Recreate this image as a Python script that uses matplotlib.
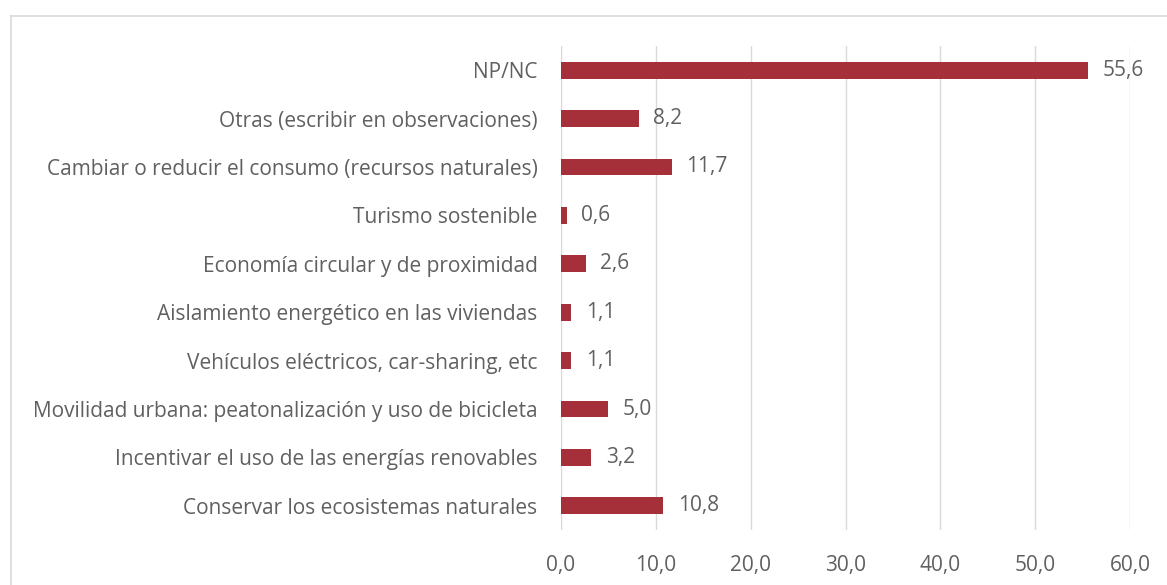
import numpy as np
import matplotlib.pyplot as plt
from matplotlib.lines import Line2D

categories = [
    "Conservar los ecosistemas naturales",
    "Incentivar el uso de las energías renovables",
    "Movilidad urbana: peatonalización y uso de bicicleta",
    "Vehículos eléctricos, car-sharing, etc",
    "Aislamiento energético en las viviendas",
    "Economía circular y de proximidad",
    "Turismo sostenible",
    "Cambiar o reducir el consumo (recursos naturales)",
    "Otras (escribir en observaciones)",
    "NP/NC",
]
values = [10.8, 3.2, 5.0, 1.1, 1.1, 2.6, 0.6, 11.7, 8.2, 55.6]
xticks = [0, 10, 20, 30, 40, 50, 60]

bar_color = '#A5303A'
text_color = '#606060'
plt.rcParams['font.family'] = ['Open Sans', 'DejaVu Sans']
fs = 15

W, H = 1167, 585
fig = plt.figure(figsize=(W / 100, H / 100), dpi=100)
ax = fig.add_axes([561 / W, 1 - 530 / H, (1130 - 561) / W, (530 - 46) / H])

y = np.arange(len(categories))
ax.barh(y, values, height=0.35, color=bar_color, zorder=3)
for yi, v in zip(y, values):
    ax.text(v + 1.5, yi, f"{v:.1f}".replace('.', ','), va='center', ha='left',
            fontsize=fs, color=text_color)

ax.set_xlim(0, 60)
ax.set_ylim(-0.5, len(categories) - 0.5)
ax.set_yticks(y)
ax.set_yticklabels(categories, fontsize=fs, color=text_color)
ax.set_xticks(xticks)
ax.set_xticklabels([f"{t:.1f}".replace('.', ',') for t in xticks], fontsize=fs, color=text_color)
ax.tick_params(axis='both', length=0)
ax.tick_params(axis='y', pad=17)
ax.tick_params(axis='x', pad=18)
ax.xaxis.grid(True, color='#D9D9D9', linewidth=1, zorder=0)
for s in ax.spines.values():
    s.set_visible(False)

# chart area border (top and left visible in the crop)
fig.add_artist(Line2D([11 / W, 1], [1 - 16 / H, 1 - 16 / H], color='#D9D9D9', lw=1.2))
fig.add_artist(Line2D([11 / W, 11 / W], [0, 1 - 16 / H], color='#D9D9D9', lw=1.2))

fig.savefig('out.png', dpi=100)
